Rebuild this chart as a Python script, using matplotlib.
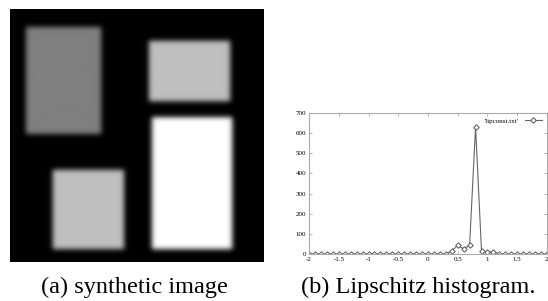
import numpy as np
import matplotlib

matplotlib.use("Agg")
import matplotlib.pyplot as plt

# synthetic image: rectangles as (x0, x1, y0, y1) fractions of the image, and gray level
rect_boxes = [
    (0.066, 0.36, 0.076, 0.497),
    (0.55, 0.87, 0.13, 0.37),
    (0.17, 0.45, 0.64, 0.95),
    (0.56, 0.875, 0.43, 0.95),
]
rect_levels = [0.50, 0.75, 0.75, 1.0]

# Lipschitz histogram
hist_x = [round(-2 + 0.1 * i, 1) for i in range(41)]
hist_y = [0] * 24 + [16, 43, 26, 43, 631, 16, 8, 12] + [0] * 9
x_ticks = [-2, -1.5, -1, -0.5, 0, 0.5, 1, 1.5, 2]
x_labels = ["-2", "-1.5", "-1", "-0.5", "0", "0.5", "1", "1.5", "2"]
y_ticks = [0, 100, 200, 300, 400, 500, 600, 700]


def make_image(n=256, sigma=2.6):
    img = np.zeros((n, n))
    for (x0, x1, y0, y1), v in zip(rect_boxes, rect_levels):
        img[int(y0 * n):int(y1 * n), int(x0 * n):int(x1 * n)] = v
    k = np.arange(-10, 11)
    g = np.exp(-k ** 2 / (2 * sigma ** 2))
    g /= g.sum()
    img = np.apply_along_axis(lambda r: np.convolve(r, g, mode="same"), 0, img)
    img = np.apply_along_axis(lambda r: np.convolve(r, g, mode="same"), 1, img)
    return img


fig = plt.figure(figsize=(5.48, 3.01), dpi=100)
serif = ["Liberation Serif", "DejaVu Serif"]

ax1 = fig.add_axes([0.018, 0.130, 0.462, 0.841])
ax1.imshow(make_image(), cmap="gray", vmin=0, vmax=1, interpolation="bilinear")
ax1.axis("off")

ax2 = fig.add_axes([0.564, 0.156, 0.434, 0.469])
ax2.plot(hist_x, hist_y, color="#666666", lw=0.8, marker="D", ms=2.8,
         mfc="white", mec="#555555", mew=0.7, label="'lipconst.txt'")
ax2.set_xlim(-2, 2)
ax2.set_ylim(0, 700)
ax2.set_xticks(x_ticks)
ax2.set_xticklabels(x_labels)
ax2.set_yticks(y_ticks)
ax2.tick_params(direction="in", length=2, width=0.5, color="#999999",
                labelsize=5, pad=2, top=True, right=True)
for lab in ax2.get_xticklabels() + ax2.get_yticklabels():
    lab.set_family(serif)
for s in ax2.spines.values():
    s.set_color("#aaaaaa")
    s.set_linewidth(0.8)
ax2.legend(loc="upper right", frameon=False, prop={"family": serif, "size": 5},
           handlelength=2.5, markerfirst=False, borderaxespad=0.3)

fig.text(0.246, 0.045, "(a) synthetic image", ha="center", va="center",
         fontsize=17.5, family=serif)
fig.text(0.764, 0.045, "(b) Lipschitz histogram.", ha="center", va="center",
         fontsize=17.5, family=serif)

fig.savefig("out.png", dpi=100)
